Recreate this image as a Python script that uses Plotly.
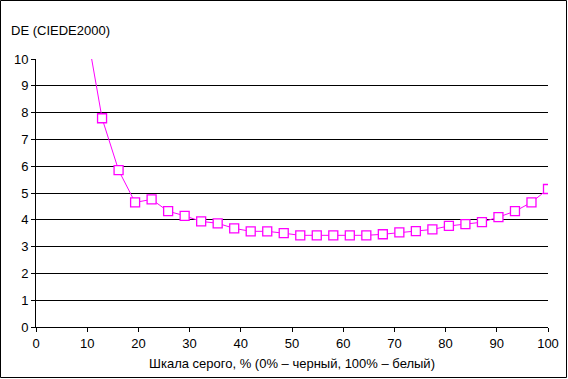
import plotly.graph_objects as go

# x positions: gray scale steps (32 steps, 0..100%)
x_vals = [i * 100 / 31 for i in range(3, 32)]
de_vals = [11.3, 7.79, 5.85, 4.65, 4.76, 4.32, 4.15, 3.94, 3.87, 3.68, 3.57, 3.57,
           3.50, 3.42, 3.42, 3.42, 3.42, 3.42, 3.46, 3.53, 3.58, 3.64, 3.77, 3.84,
           3.91, 4.10, 4.32, 4.65, 5.15]

x_ticks = [0, 10, 20, 30, 40, 50, 60, 70, 80, 90, 100]
y_ticks = [0, 1, 2, 3, 4, 5, 6, 7, 8, 9, 10]

font = dict(family="Liberation Sans, Arial, sans-serif", size=13, color="black")

fig = go.Figure()
fig.add_trace(go.Scatter(
    x=x_vals, y=de_vals, mode="lines+markers",
    line=dict(color="#FF00FF", width=1),
    marker=dict(symbol="square", size=9, color="white",
                line=dict(color="#FF00FF", width=1.3)),
    cliponaxis=True, showlegend=False,
))

L, R, T, B = 36, 20, 59, 52
W, H = 568, 379
pw, ph = W - L - R, H - T - B

fig.update_layout(
    width=W, height=H, autosize=False,
    margin=dict(l=L, r=R, t=T, b=B, autoexpand=False),
    paper_bgcolor="white", plot_bgcolor="white",
    font=font,
    xaxis=dict(range=[0, 100], tickvals=x_ticks, showgrid=False, zeroline=False,
               showline=True, linecolor="black", linewidth=1,
               ticks="outside", ticklen=4, tickcolor="black",
               title=dict(text="Шкала серого, % (0% – черный, 100% – белый)",
                          font=font, standoff=9)),
    yaxis=dict(range=[0, 10], tickvals=y_ticks, showgrid=True, gridcolor="black",
               gridwidth=1, zeroline=False, showline=True, linecolor="black",
               linewidth=1, ticks="outside", ticklen=4, tickcolor="black"),
    annotations=[dict(text="DE (CIEDE2000)", xref="paper", yref="paper",
                      x=(9 - L) / pw, y=(H - B - 30) / ph, xanchor="left",
                      yanchor="middle", showarrow=False, font=font)],
    shapes=[dict(type="rect", xref="paper", yref="paper",
                 x0=(0.5 - L) / pw, x1=(W - 1.5 - L) / pw,
                 y0=(H - B - (H - 1.5)) / ph, y1=(H - B - 0.5) / ph,
                 line=dict(color="black", width=1), layer="above")],
)

fig.write_html("out.html", config={"displayModeBar": False},
               post_script="document.body.style.margin='0';document.body.style.overflow='hidden';")
